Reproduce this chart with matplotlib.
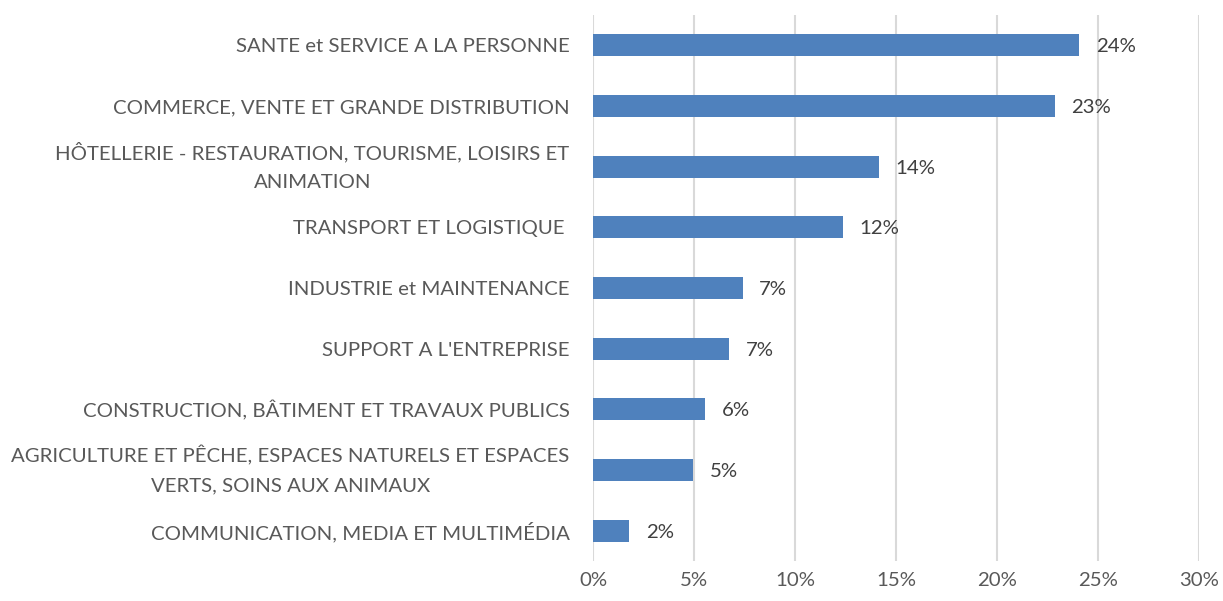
import matplotlib.pyplot as plt
from matplotlib.ticker import MultipleLocator, FuncFormatter

plt.rcParams['font.family'] = ['Lato', 'DejaVu Sans']

categories = [
    "SANTE et SERVICE A LA PERSONNE",
    "COMMERCE, VENTE ET GRANDE DISTRIBUTION",
    "HÔTELLERIE - RESTAURATION, TOURISME, LOISIRS ET\nANIMATION",
    "TRANSPORT ET LOGISTIQUE ",
    "INDUSTRIE et MAINTENANCE",
    "SUPPORT A L'ENTREPRISE",
    "CONSTRUCTION, BÂTIMENT ET TRAVAUX PUBLICS",
    "AGRICULTURE ET PÊCHE, ESPACES NATURELS ET ESPACES\nVERTS, SOINS AUX ANIMAUX",
    "COMMUNICATION, MEDIA ET MULTIMÉDIA",
]
values = [24.06, 22.85, 14.16, 12.35, 7.4, 6.75, 5.55, 4.95, 1.8]
value_labels = ["24%", "23%", "14%", "12%", "7%", "7%", "6%", "5%", "2%"]

bar_color = "#4F81BD"
text_color = "#595959"

fig = plt.figure(figsize=(12.23, 6.01), dpi=100)
ax = fig.add_axes([0.4849, 0.0666, 0.4955, 0.9085])

ypos = list(range(len(categories)))
ax.barh(ypos, values, height=0.36, color=bar_color, zorder=3)
ax.set_ylim(len(categories) - 0.5, -0.5)
ax.set_xlim(0, 30)
ax.xaxis.set_major_locator(MultipleLocator(5))
ax.xaxis.set_major_formatter(FuncFormatter(lambda v, p: f"{v:.0f}%"))

ax.set_yticks(ypos)
ax.set_yticklabels(categories, ha="right", multialignment="center",
                   fontsize=14.7, color=text_color, linespacing=1.85)
# wrapped labels are centred as a block on the bar
for t in ax.get_yticklabels():
    if "\n" in t.get_text():
        t.set_va("center")
ax.tick_params(axis="y", length=0, pad=17)
ax.tick_params(axis="x", length=0, labelsize=14.7, labelcolor=text_color, pad=8)

ax.grid(axis="x", color="#D9D9D9", linewidth=1.5, zorder=0)
for s in ax.spines.values():
    s.set_visible(False)

for y, v, lab in zip(ypos, values, value_labels):
    ax.annotate(lab, (v, y), xytext=(12, -1), textcoords="offset points",
                va="center", ha="left", fontsize=14.7, color="#404040")

fig.savefig("out.png", dpi=100)
